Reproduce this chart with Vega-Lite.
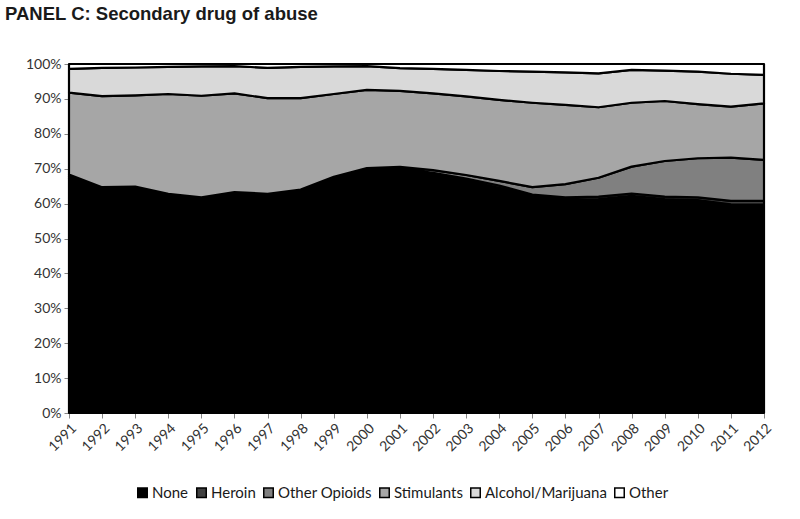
{
  "$schema": "https://vega.github.io/schema/vega-lite/v6.json",
  "width": 695,
  "height": 349,
  "autosize": {"type": "none"},
  "padding": {"left": 69, "top": 64, "right": 36, "bottom": 106},
  "background": "white",
  "title": {
    "text": "PANEL C: Secondary drug of abuse",
    "anchor": "start",
    "frame": "group",
    "dx": -64,
    "offset": 34,
    "font": "Liberation Sans",
    "fontSize": 18.5,
    "fontWeight": "bold",
    "color": "#1a1a1a"
  },
  "data": {
    "values": [
      {"year": "1991", "None": 67.2, "Heroin": 0.6, "Other Opioids": 0.5, "Stimulants": 23.5, "Alcohol/Marijuana": 6.8, "Other": 1.4},
      {"year": "1992", "None": 63.8, "Heroin": 0.5, "Other Opioids": 0.4, "Stimulants": 26.1, "Alcohol/Marijuana": 8.1, "Other": 1.1},
      {"year": "1993", "None": 64.0, "Heroin": 0.5, "Other Opioids": 0.4, "Stimulants": 26.1, "Alcohol/Marijuana": 8.0, "Other": 1.0},
      {"year": "1994", "None": 61.9, "Heroin": 0.5, "Other Opioids": 0.4, "Stimulants": 28.6, "Alcohol/Marijuana": 7.8, "Other": 0.8},
      {"year": "1995", "None": 60.9, "Heroin": 0.5, "Other Opioids": 0.4, "Stimulants": 29.1, "Alcohol/Marijuana": 8.4, "Other": 0.7},
      {"year": "1996", "None": 62.4, "Heroin": 0.5, "Other Opioids": 0.4, "Stimulants": 28.3, "Alcohol/Marijuana": 7.8, "Other": 0.6},
      {"year": "1997", "None": 61.9, "Heroin": 0.5, "Other Opioids": 0.4, "Stimulants": 27.4, "Alcohol/Marijuana": 8.7, "Other": 1.1},
      {"year": "1998", "None": 63.1, "Heroin": 0.5, "Other Opioids": 0.4, "Stimulants": 26.2, "Alcohol/Marijuana": 9.0, "Other": 0.8},
      {"year": "1999", "None": 66.8, "Heroin": 0.5, "Other Opioids": 0.4, "Stimulants": 23.7, "Alcohol/Marijuana": 7.9, "Other": 0.7},
      {"year": "2000", "None": 69.3, "Heroin": 0.5, "Other Opioids": 0.4, "Stimulants": 22.4, "Alcohol/Marijuana": 6.8, "Other": 0.6},
      {"year": "2001", "None": 69.6, "Heroin": 0.5, "Other Opioids": 0.4, "Stimulants": 21.8, "Alcohol/Marijuana": 6.5, "Other": 1.2},
      {"year": "2002", "None": 68.3, "Heroin": 0.5, "Other Opioids": 0.8, "Stimulants": 22.0, "Alcohol/Marijuana": 7.0, "Other": 1.4},
      {"year": "2003", "None": 66.6, "Heroin": 0.6, "Other Opioids": 1.0, "Stimulants": 22.5, "Alcohol/Marijuana": 7.6, "Other": 1.7},
      {"year": "2004", "None": 64.5, "Heroin": 0.7, "Other Opioids": 1.3, "Stimulants": 23.2, "Alcohol/Marijuana": 8.3, "Other": 2.0},
      {"year": "2005", "None": 62.0, "Heroin": 0.6, "Other Opioids": 2.1, "Stimulants": 24.2, "Alcohol/Marijuana": 8.9, "Other": 2.2},
      {"year": "2006", "None": 61.2, "Heroin": 0.6, "Other Opioids": 3.8, "Stimulants": 22.7, "Alcohol/Marijuana": 9.3, "Other": 2.4},
      {"year": "2007", "None": 61.3, "Heroin": 0.7, "Other Opioids": 5.4, "Stimulants": 20.2, "Alcohol/Marijuana": 9.7, "Other": 2.7},
      {"year": "2008", "None": 62.2, "Heroin": 0.7, "Other Opioids": 7.7, "Stimulants": 18.3, "Alcohol/Marijuana": 9.4, "Other": 1.7},
      {"year": "2009", "None": 61.3, "Heroin": 0.7, "Other Opioids": 10.2, "Stimulants": 17.2, "Alcohol/Marijuana": 8.7, "Other": 1.9},
      {"year": "2010", "None": 61.0, "Heroin": 0.8, "Other Opioids": 11.2, "Stimulants": 15.5, "Alcohol/Marijuana": 9.3, "Other": 2.2},
      {"year": "2011", "None": 59.8, "Heroin": 1.0, "Other Opioids": 12.4, "Stimulants": 14.6, "Alcohol/Marijuana": 9.4, "Other": 2.8},
      {"year": "2012", "None": 59.7, "Heroin": 1.1, "Other Opioids": 11.7, "Stimulants": 16.2, "Alcohol/Marijuana": 8.2, "Other": 3.1}
    ]
  },
  "transform": [
    {"fold": ["None", "Heroin", "Other Opioids", "Stimulants", "Alcohol/Marijuana", "Other"], "as": ["drug", "pct"]},
    {"calculate": "indexof(['None','Heroin','Other Opioids','Stimulants','Alcohol/Marijuana','Other'], datum.drug)", "as": "rank"}
  ],
  "mark": {"type": "area", "stroke": "black", "strokeWidth": 2.2, "strokeJoin": "round", "interpolate": "linear"},
  "encoding": {
    "x": {
      "field": "year",
      "type": "ordinal",
      "scale": {"type": "point", "padding": 0},
      "axis": {
        "title": null,
        "labelAngle": -45,
        "labelFont": "Lato",
        "labelFontSize": 14,
        "labelColor": "#333333",
        "domainColor": "#868686",
        "tickColor": "#868686",
        "tickSize": 5,
        "labelPadding": 3
      }
    },
    "y": {
      "field": "pct",
      "type": "quantitative",
      "stack": "zero",
      "scale": {"domain": [0, 100], "nice": false},
      "axis": {
        "title": null,
        "values": [0, 10, 20, 30, 40, 50, 60, 70, 80, 90, 100],
        "labelExpr": "datum.value + '%'",
        "grid": false,
        "labelFont": "Lato",
        "labelFontSize": 14,
        "labelColor": "#333333",
        "domainColor": "#868686",
        "tickColor": "#868686",
        "tickSize": 5,
        "labelPadding": 3
      }
    },
    "color": {
      "field": "drug",
      "type": "nominal",
      "sort": ["None", "Heroin", "Other Opioids", "Stimulants", "Alcohol/Marijuana", "Other"],
      "scale": {
        "domain": ["None", "Heroin", "Other Opioids", "Stimulants", "Alcohol/Marijuana", "Other"],
        "range": ["#000000", "#404040", "#808080", "#a6a6a6", "#d9d9d9", "#ffffff"]
      },
      "legend": {
        "title": null,
        "orient": "none",
        "legendX": 66,
        "legendY": 421,
        "direction": "horizontal",
        "symbolType": "square",
        "symbolSize": 90,
        "symbolStrokeColor": "black",
        "symbolStrokeWidth": 1.5,
        "symbolOpacity": 1,
        "labelFont": "Lato",
        "labelFontSize": 15,
        "labelColor": "#1a1a1a",
        "labelOffset": 2,
        "columnPadding": 4,
        "symbolOffset": 0
      }
    },
    "order": {"field": "rank", "type": "quantitative", "sort": "ascending"}
  },
  "config": {
    "view": {"stroke": null}
  }
}
